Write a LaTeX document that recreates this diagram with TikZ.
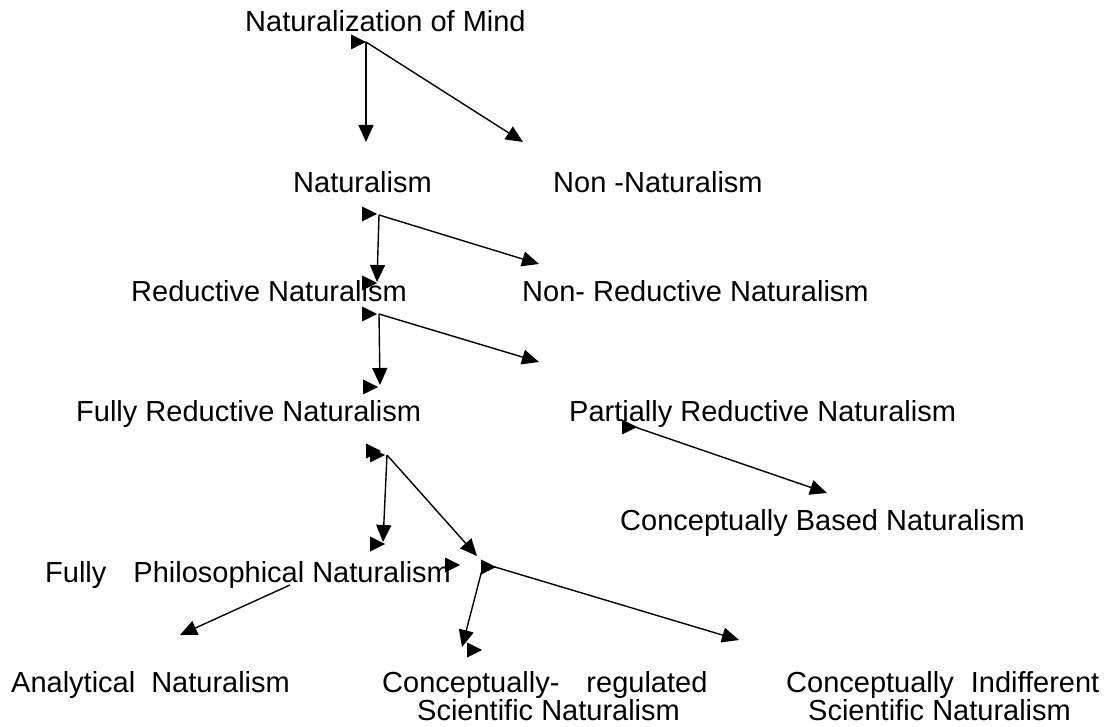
\documentclass[tikz,border=0pt]{standalone}
\usepackage{fontspec}
\setmainfont{Liberation Sans}
\usetikzlibrary{arrows.meta}
\begin{document}
\begin{tikzpicture}[x=1pt,y=-1pt,
  txt/.style={anchor=base west,inner sep=0pt,font=\fontsize{29}{34}\selectfont},
  link/.style={line width=1.4pt,-{Triangle[length=17pt,width=15pt]}},
  pics/headmark/.style={code={\fill (0,0) -- (-15,-7.5) -- (-15,7.5) -- cycle;}}]
\useasboundingbox (0,0) rectangle (1112,727);

% labels
\node[txt] (mind) at (245,32) {Naturalization of Mind};
\node[txt] (nat) at (293,193) {Naturalism};
\node[txt] (nonnat) at (553,193) {Non -Naturalism};
\node[txt] (red) at (131,302) {Reductive Naturalism};
\node[txt] (nonred) at (522,302) {Non- Reductive Naturalism};
\node[txt] (fullred) at (76,422) {Fully Reductive Naturalism};
\node[txt] (partred) at (569,422) {Partially Reductive Naturalism};
\node[txt] (concbased) at (620,530) {Conceptually Based Naturalism};
\node[txt] (philo) at (45,582) {Fully\hspace{27pt}Philosophical Naturalism};
\node[txt] (anal) at (11,692) {Analytical\hspace{16pt}Naturalism};
\node[txt] (concreg) at (382,692) {Conceptually-\hspace{27pt}regulated};
\node[txt] (sciA) at (417,720) {Scientific Naturalism};
\node[txt] (concind) at (786,692) {Conceptually\hspace{17pt}Indifferent};
\node[txt] (sciB) at (808,720) {Scientific Naturalism};

% junctions and arrow ends
\coordinate (j0) at (366,42);
\coordinate (t0a) at (366,142);
\coordinate (t0b) at (523,142);
\coordinate (j1) at (379,215);
\coordinate (t1a) at (377,282);
\coordinate (t1b) at (539,264);
\coordinate (j2) at (379,314);
\coordinate (t2a) at (380,385);
\coordinate (t2b) at (539,362);
\coordinate (j3) at (387,455);
\coordinate (t3a) at (383,542);
\coordinate (t3b) at (477,556);
\coordinate (j4) at (495,567);
\coordinate (j4b) at (482,570);
\coordinate (t4a) at (462,647);
\coordinate (t4b) at (739,640);
\coordinate (j5) at (632,426);
\coordinate (t5) at (827,493);
\coordinate (j6) at (290,585);
\coordinate (t6) at (180,635);

% connectors
\draw[link] (j0) -- (t0a);
\draw[link] (j0) -- (t0b);
\draw[link] (j1) -- (t1a);
\draw[link] (j1) -- (t1b);
\draw[link] (j2) -- (t2a);
\draw[link] (j2) -- (t2b);
\draw[link] (j3) -- (t3a);
\draw[link] (j3) -- (t3b);
\draw[link] (j4) -- (t4b);
\draw[line width=1.4pt] (j4) -- (j4b);
\draw[link] (j4b) -- (t4a);
\draw[link] (j5) -- (t5);
\draw[link] (j6) -- (t6);

% loose triangle marks
\pic at (366,42) {headmark};
\pic at (377,214) {headmark};
\pic at (377,283) {headmark};
\pic at (377,314) {headmark};
\pic at (378,387) {headmark};
\pic at (385,455) {headmark};
\pic at (381,451) {headmark};
\pic at (385,544) {headmark};
\pic at (460,565) {headmark};
\pic at (496,567) {headmark};
\pic at (482,650) {headmark};
\pic at (637,427) {headmark};
\end{tikzpicture}
\end{document}
